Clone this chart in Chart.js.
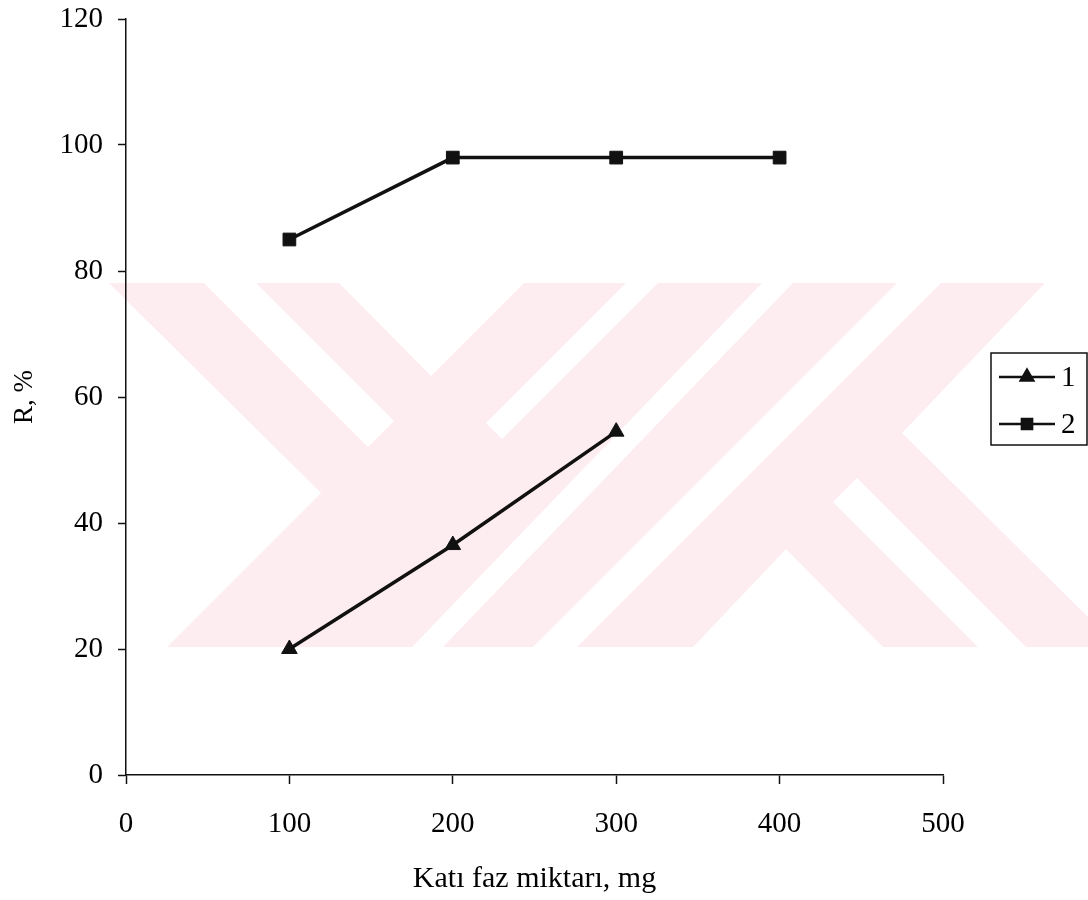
<!DOCTYPE html>
<html>
<head>
<meta charset="utf-8">
<title>R, % - Katı faz miktarı</title>
<script src="https://cdn.jsdelivr.net/npm/chart.js@4/dist/chart.umd.min.js"></script>
<style>
    html, body { margin: 0; padding: 0; background: #fff; }
    #wrap { width: 1088px; height: 900px; }
</style>
</head>
<body>
<div id="wrap"><canvas id="recoveryChart" width="1088" height="900"></canvas></div>
<script>
// axis ticks
const xTicks = [0, 100, 200, 300, 400, 500];
const yTicks = [0, 20, 40, 60, 80, 100, 120];

// solid phase amount (mg) and recovery (%)
const massLevels = [100, 200, 300, 400];
const series1 = [20, 36.5, 54.5];
const series2 = [85, 98, 98, 98];
const seriesNames = ['1', '2'];

const serif = "'Liberation Serif', 'Times New Roman', serif";
const ink = '#111';

const toPoints = (vals) => vals.map((v, i) => ({ x: massLevels[i], y: v }));

// pale background stamp, drawn under the axes
const stampPink = '#fdecf0';
const stampBox = { left: 109, top: 283, right: 1088, bottom: 647 };
const stampCuts = [
    [[0, 283], [109, 283], [321, 493], [167, 647], [0, 647]],
    [[204, 283], [256, 283], [394, 421], [368, 447]],
    [[339, 283], [524, 283], [431, 376]],
    [[626, 283], [658, 283], [502, 439], [486, 423]],
    [[762, 283], [793, 283], [443, 647], [412, 647]],
    [[897, 283], [941, 283], [577, 647], [533, 647]],
    [[1045, 283], [1088, 283], [1088, 617], [902, 433]],
    [[693, 647], [786, 549], [883, 647]],
    [[857, 478], [1026, 647], [978, 647], [833, 502]]
];

const stampPlugin = {
    id: 'stamp',
    beforeDraw(chart) {
        const ctx = chart.ctx;
        ctx.save();
        ctx.fillStyle = stampPink;
        ctx.fillRect(stampBox.left, stampBox.top, stampBox.right - stampBox.left, stampBox.bottom - stampBox.top);
        ctx.fillStyle = '#fff';
        stampCuts.forEach(poly => {
            ctx.beginPath();
            poly.forEach(([px, py], i) => i ? ctx.lineTo(px, py) : ctx.moveTo(px, py));
            ctx.closePath();
            ctx.fill();
        });
        ctx.restore();
    }
};

// boxed legend to the right of the plot
const boxLegend = {
    id: 'boxLegend',
    afterDraw(chart) {
        const ctx = chart.ctx;
        const box = { x: 991, y: 353, w: 96, h: 92 };
        ctx.save();
        ctx.fillStyle = '#fff';
        ctx.fillRect(box.x, box.y, box.w, box.h);
        ctx.strokeStyle = ink;
        ctx.lineWidth = 1.5;
        ctx.strokeRect(box.x, box.y, box.w, box.h);

        chart.data.datasets.forEach((ds, i) => {
            const cy = box.y + 24 + i * 47;
            ctx.strokeStyle = ds.borderColor;
            ctx.lineWidth = 2.5;
            ctx.beginPath();
            ctx.moveTo(box.x + 8, cy);
            ctx.lineTo(box.x + 64, cy);
            ctx.stroke();
            ctx.fillStyle = ds.backgroundColor;
            Chart.helpers.drawPoint(ctx, {
                pointStyle: ds.pointStyle,
                radius: ds.pointRadius * 0.8,
                borderWidth: 1,
                rotation: 0
            }, box.x + 36, cy);
            ctx.fillStyle = '#000';
            ctx.font = '29px ' + serif;
            ctx.textAlign = 'left';
            ctx.textBaseline = 'middle';
            ctx.fillText(ds.label, box.x + 70, cy + 1);
        });
        ctx.restore();
    }
};

const ctx = document.getElementById('recoveryChart').getContext('2d');
const recoveryChart = new Chart(ctx, {
    type: 'line',
    data: {
        datasets: [
            {
                label: seriesNames[0],
                data: toPoints(series1),
                borderColor: ink,
                backgroundColor: ink,
                borderWidth: 3.5,
                pointStyle: 'triangle',
                pointRadius: 9,
                pointBorderWidth: 1,
                tension: 0
            },
            {
                label: seriesNames[1],
                data: toPoints(series2),
                borderColor: ink,
                backgroundColor: ink,
                borderWidth: 3.5,
                pointStyle: 'rect',
                pointRadius: 9,
                pointBorderWidth: 1,
                tension: 0
            }
        ]
    },
    options: {
        responsive: false,
        animation: false,
        devicePixelRatio: 1,
        layout: { padding: { top: 19, right: 145, left: 0, bottom: 0 } },
        plugins: {
            legend: { display: false },
            tooltip: { enabled: false }
        },
        scales: {
            x: {
                type: 'linear',
                min: xTicks[0],
                max: xTicks[xTicks.length - 1],
                afterFit: (s) => { s.height = 125; s.paddingLeft = 0; s.paddingRight = 0; },
                afterBuildTicks: (s) => { s.ticks = xTicks.map(v => ({ value: v })); },
                grid: { drawOnChartArea: false, drawTicks: true, tickLength: 9, tickColor: ink, tickWidth: 1.5 },
                border: { display: true, color: ink, width: 1.5 },
                ticks: { color: '#000', font: { family: serif, size: 29 }, padding: 23, maxRotation: 0 },
                title: {
                    display: true,
                    text: 'Katı faz miktarı, mg',
                    color: '#000',
                    font: { family: serif, size: 30 },
                    padding: { top: 0, bottom: 3 }
                }
            },
            y: {
                type: 'linear',
                min: yTicks[0],
                max: yTicks[yTicks.length - 1],
                afterFit: (s) => { s.width = 126; s.paddingTop = 0; s.paddingBottom = 0; },
                afterBuildTicks: (s) => { s.ticks = yTicks.map(v => ({ value: v })); },
                grid: { drawOnChartArea: false, drawTicks: true, tickLength: 8, tickColor: ink, tickWidth: 1.5 },
                border: { display: true, color: ink, width: 1.5 },
                ticks: { color: '#000', font: { family: serif, size: 29 }, padding: 15 },
                title: {
                    display: true,
                    text: 'R, %',
                    color: '#000',
                    font: { family: serif, size: 27 },
                    padding: { top: 9, bottom: 0 }
                }
            }
        }
    },
    plugins: [stampPlugin, boxLegend]
});
</script>
</body>
</html>
